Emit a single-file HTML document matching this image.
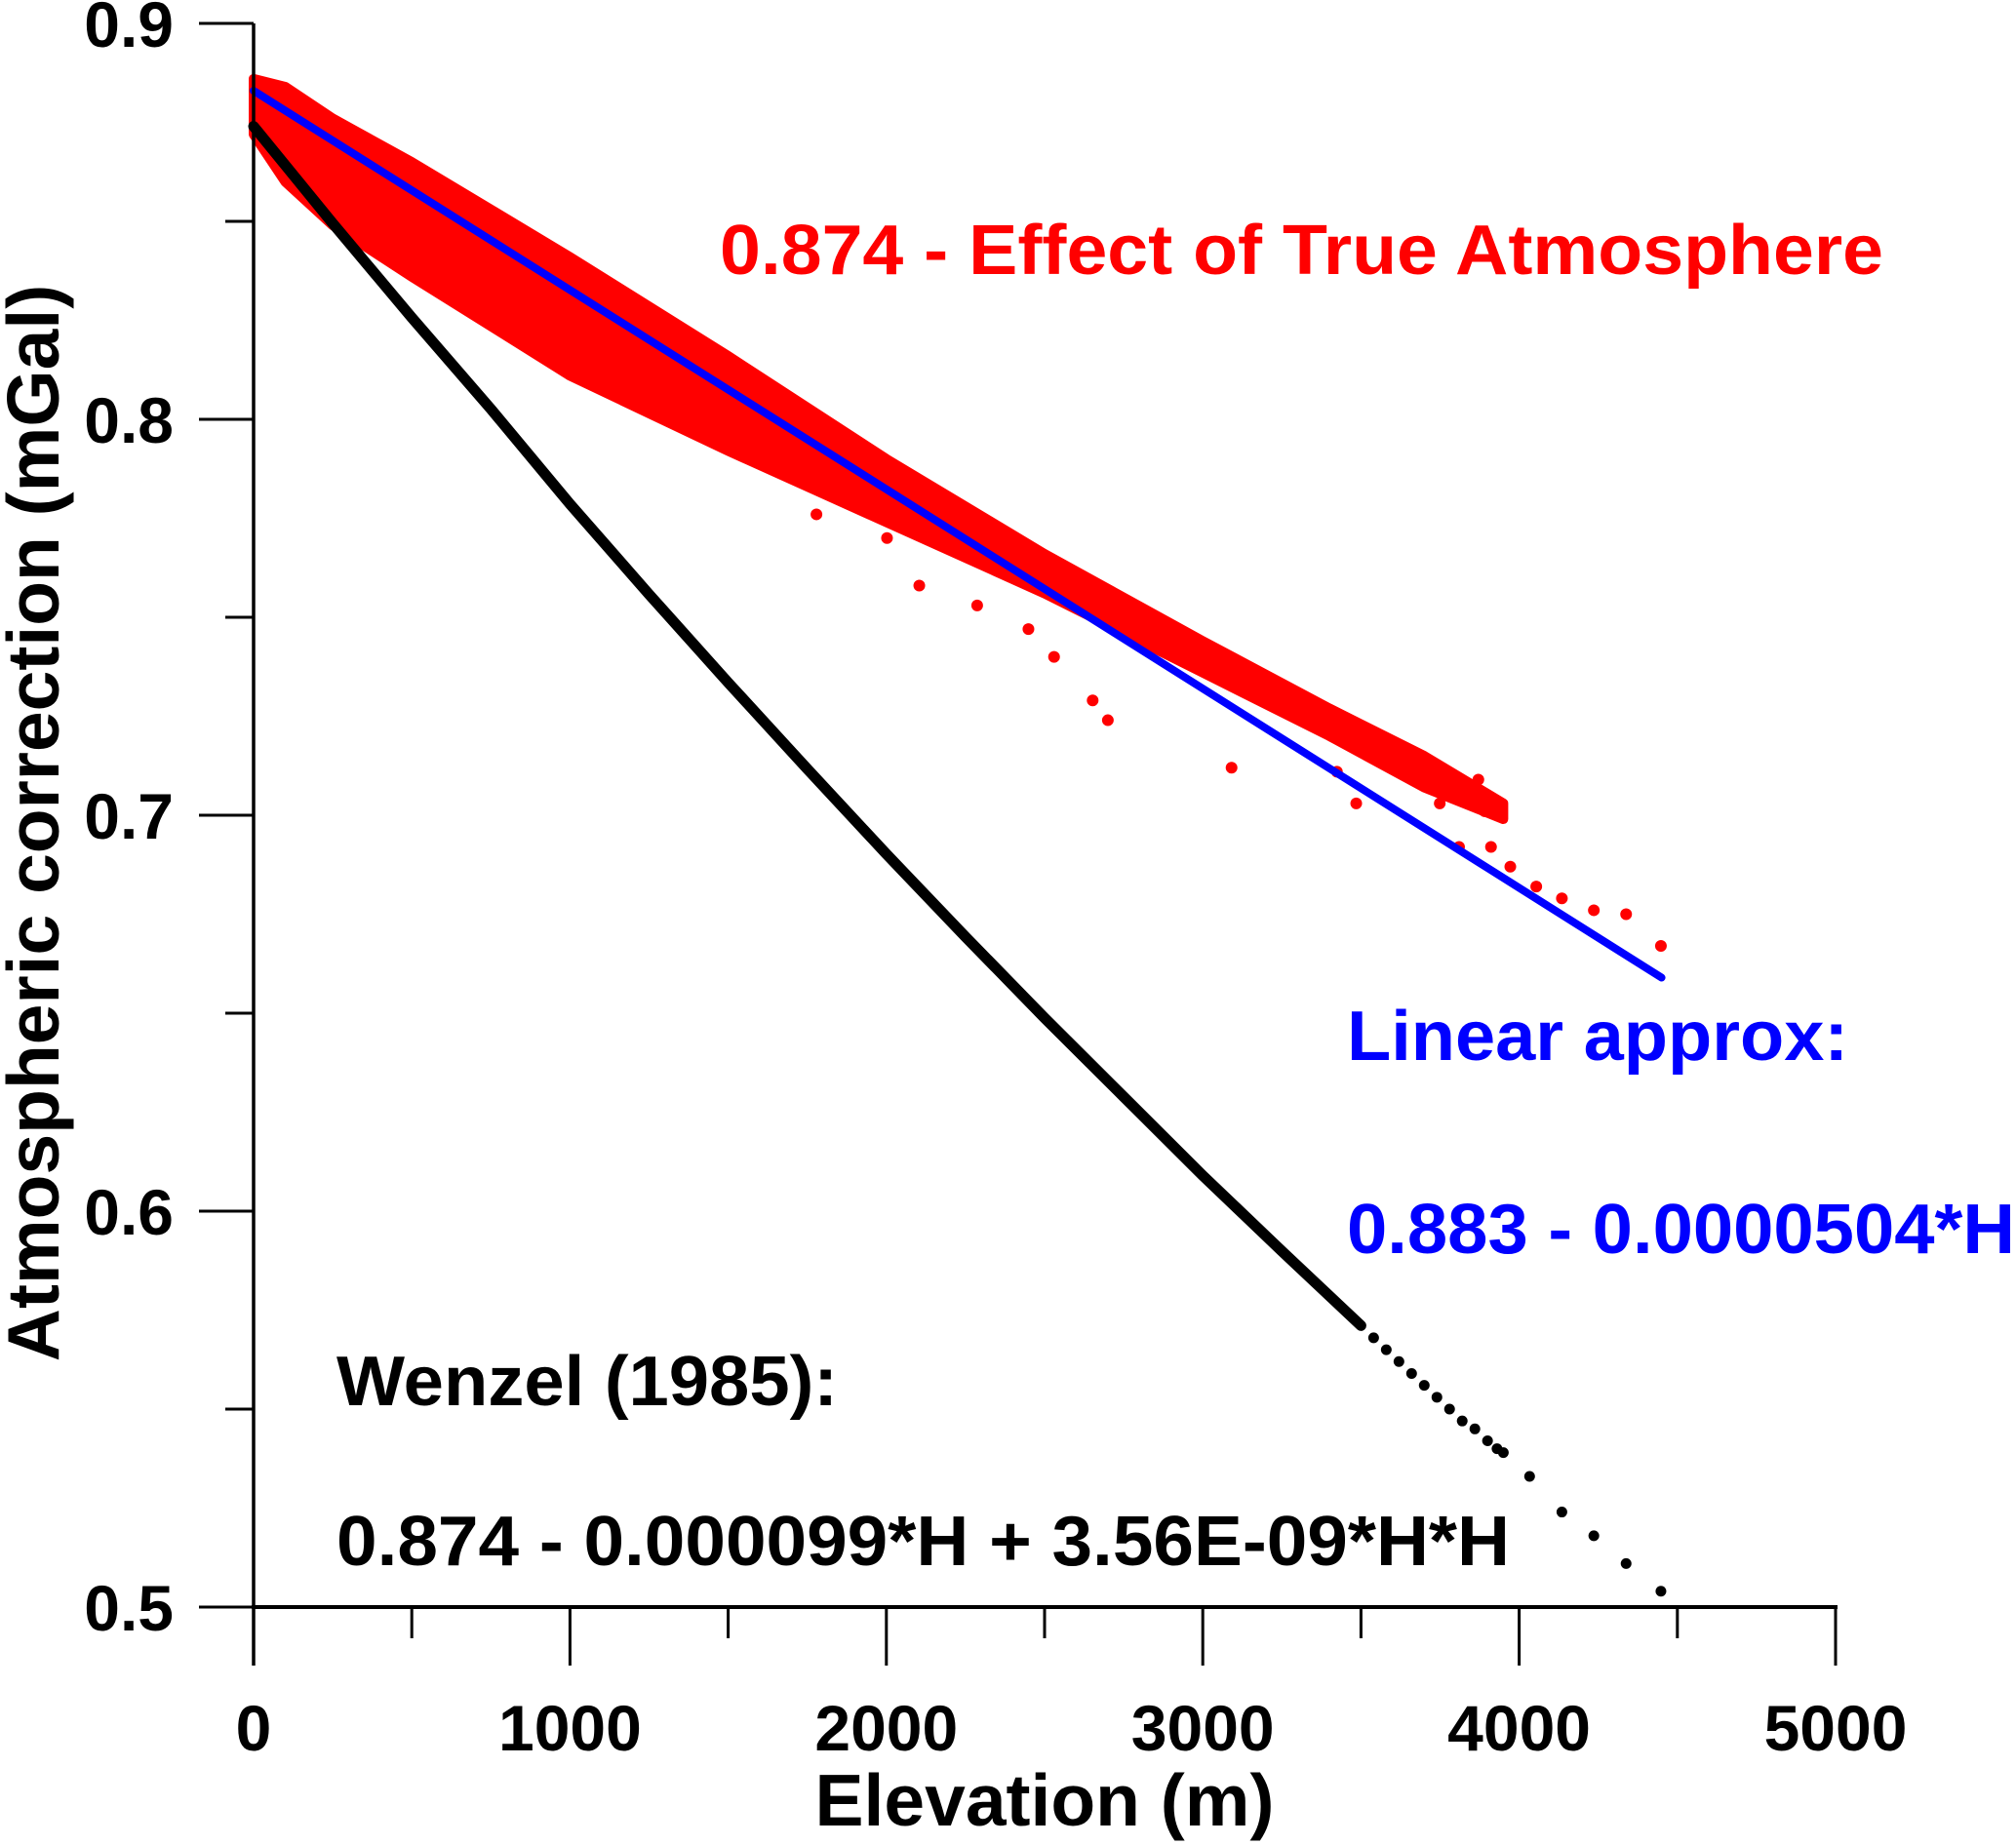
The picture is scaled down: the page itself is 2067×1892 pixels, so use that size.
<!DOCTYPE html>
<html><head><meta charset="utf-8"><style>
html,body{margin:0;padding:0;background:#fff;}
svg{display:block;font-family:"Liberation Sans",Arial,sans-serif;font-weight:bold;}
</style></head><body>
<svg id="chart" width="2067" height="1892" viewBox="0 0 2067 1892" xmlns="http://www.w3.org/2000/svg">
<g id="marks"></g>
<g id="axes"></g>
<text x="1071" y="1872" font-size="75" text-anchor="middle">Elevation (m)</text>
<text transform="translate(60,844) rotate(-90)" font-size="75" text-anchor="middle">Atmospheric correction (mGal)</text>
<text x="738" y="281" font-size="72" fill="#ff0000" textLength="1193" lengthAdjust="spacingAndGlyphs">0.874 - Effect of True Atmosphere</text>
<text x="1381" y="1087" font-size="72" fill="#0000ff" textLength="514" lengthAdjust="spacingAndGlyphs">Linear approx:</text>
<text x="1381" y="1285" font-size="72" fill="#0000ff" textLength="685" lengthAdjust="spacingAndGlyphs">0.883 - 0.0000504*H</text>
<text x="345" y="1441" font-size="72" fill="#000" textLength="514" lengthAdjust="spacingAndGlyphs">Wenzel (1985):</text>
<text x="345" y="1605" font-size="72" fill="#000" textLength="1203" lengthAdjust="spacingAndGlyphs">0.874 - 0.000099*H + 3.56E-09*H*H</text>
</svg>
<script>
const xTicks = [0, 1000, 2000, 3000, 4000, 5000];
const xTickLabels = ["0", "1000", "2000", "3000", "4000", "5000"];
const yTicks = [0.5, 0.6, 0.7, 0.8, 0.9];
const yTickLabels = ["0.5", "0.6", "0.7", "0.8", "0.9"];
const wenzelH = [0, 250, 500, 750, 1000, 1250, 1500, 1750, 2000, 2250, 2500, 2750, 3000, 3250, 3500];
const wenzelV = [0.874, 0.8495, 0.8257, 0.8026, 0.7786, 0.7558, 0.7335, 0.7117, 0.6902, 0.6693, 0.6488, 0.6289, 0.6090, 0.5899, 0.5711];
const wenzelDotsH = [3540, 3580, 3620, 3660, 3700, 3740, 3780, 3820, 3860, 3900, 3930, 3950, 4033, 4135, 4236, 4338, 4448];
const wenzelDotsV = [0.568, 0.565, 0.562, 0.559, 0.556, 0.553, 0.550, 0.547, 0.545, 0.542, 0.540, 0.539, 0.533, 0.524, 0.518, 0.511, 0.504];
const linearH = [0, 4450];
const linearV = [0.883, 0.659];
const bandH = [0, 100, 250, 500, 1000, 1500, 2000, 2500, 3000, 3400, 3700, 3950];
const bandUpper = [0.886, 0.884, 0.876, 0.865, 0.841, 0.816, 0.790, 0.766, 0.744, 0.727, 0.715, 0.703];
const bandLower = [0.872, 0.860, 0.849, 0.836, 0.811, 0.792, 0.774, 0.756, 0.736, 0.720, 0.707, 0.699];
const outlierH = [1779, 2002, 2104, 2287, 2449, 2530, 2652, 2700, 3091, 3424, 3485, 3607, 3668, 3749, 3810, 3871, 3891, 3911, 3972, 4054, 4135, 4236, 4338, 4448];
const outlierV = [0.776, 0.770, 0.758, 0.753, 0.747, 0.740, 0.729, 0.724, 0.712, 0.711, 0.703, 0.714, 0.709, 0.703, 0.692, 0.709, 0.701, 0.692, 0.687, 0.682, 0.679, 0.676, 0.675, 0.667];

const NS = "http://www.w3.org/2000/svg";
function xS(h){ return 260 + h * 1622 / 5000; }
function yS(v){ return 24 + (0.9 - v) * 4060; }
function mk(tag, attrs, parent){ const e = document.createElementNS(NS, tag); for (const k in attrs) e.setAttribute(k, attrs[k]); parent.appendChild(e); return e; }
const marks = document.getElementById('marks');
const axes = document.getElementById('axes');

let pts = bandH.map((h,i)=>xS(h)+','+yS(bandUpper[i]));
for (let i=bandH.length-1;i>=0;i--) pts.push(xS(bandH[i])+','+yS(bandLower[i]));
const band = mk('polygon', {points: pts.join(' '), fill:'#ff0000', stroke:'#ff0000', 'stroke-width':10, 'stroke-linejoin':'round'}, marks);


outlierH.forEach((h,i)=>{
  const c = mk('circle', {cx:xS(h), cy:yS(outlierV[i]), r:6, fill:'#ff0000'}, marks);
  
  
});
const wl = mk('polyline', {points: wenzelH.map((h,i)=>xS(h)+','+yS(wenzelV[i])).join(' '), fill:'none', stroke:'#000', 'stroke-width':11, 'stroke-linecap':'round', 'stroke-linejoin':'round'}, marks);


wenzelDotsH.forEach((h,i)=>{
  const c = mk('circle', {cx:xS(h), cy:yS(wenzelDotsV[i]), r:5.5, fill:'#000'}, marks);
  
  
});
const ll = mk('polyline', {points: linearH.map((h,i)=>xS(h)+','+yS(linearV[i])).join(' '), fill:'none', stroke:'#0000ff', 'stroke-width':8, 'stroke-linecap':'round'}, marks);



const ya = mk('line', {x1:260, y1:yS(0.9), x2:260, y2:1708, stroke:'#000', 'stroke-width':3.5}, axes);


const xa = mk('line', {x1:258, y1:yS(0.5), x2:1884, y2:yS(0.5), stroke:'#000', 'stroke-width':4}, axes);


for (let h=500; h<=5000; h+=500){
  const major = h % 1000 === 0;
  const t = mk('line', {x1:xS(h), y1:yS(0.5), x2:xS(h), y2: major?1708:1680, stroke:'#000', 'stroke-width':3}, axes);
  
  
}
for (let k=0; k<=8; k++){
  const v = 0.5 + k*0.05;
  const major = k % 2 === 0;
  const t = mk('line', {x1: major?204:231, y1:yS(v), x2:260, y2:yS(v), stroke:'#000', 'stroke-width':3}, axes);
  
  
}
xTicks.forEach((h,i)=>{
  const t = mk('text', {x:xS(h), y:1795, 'font-size':66, 'text-anchor':'middle'}, axes);
  t.textContent = xTickLabels[i];
  
  
});
yTicks.forEach((v,i)=>{
  const t = mk('text', {x:178, y:yS(v)+24, 'font-size':66, 'text-anchor':'end'}, axes);
  t.textContent = yTickLabels[i];
  
  
});
</script>
</body></html>
